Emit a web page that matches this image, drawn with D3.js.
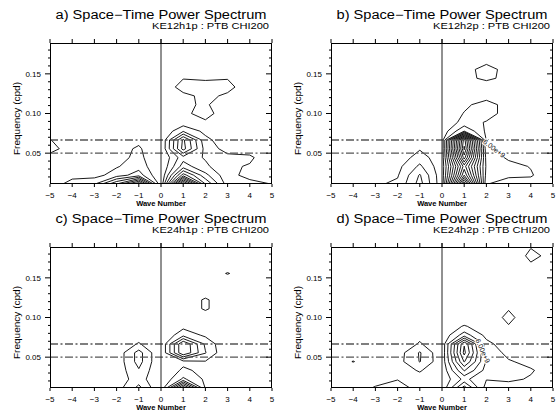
<!DOCTYPE html>
<html><head><meta charset="utf-8">
<script src="https://cdn.jsdelivr.net/npm/d3@7"></script>
<style>body{margin:0;background:#fff}svg{display:block}</style>
</head><body>
<svg id="chart" width="559" height="415"></svg>
<script>
// ---- data ----
const waveNumbers = [-5, -4, -3, -2, -1, 0, 1, 2, 3, 4, 5];
const freqRows = [1/90, 2/90, 3/90, 4/90, 5/90, 6/90, 7/90, 8/90, 9/90, 10/90, 11/90, 12/90, 13/90, 14/90, 15/90, 16/90, 17/90];
const xTickValues = [-5, -4, -3, -2, -1, 0, 1, 2, 3, 4, 5];
const xTickLabels = ['\u22125', '\u22124', '\u22123', '\u22122', '\u22121', '0', '1', '2', '3', '4', '5'];
const yTickValues = [0.05, 0.10, 0.15];
const yTickLabels = ['0.05', '0.10', '0.15'];
const yMinorTicks = [0.02, 0.03, 0.04, 0.06, 0.07, 0.08, 0.09, 0.11, 0.12, 0.13, 0.14, 0.16, 0.17, 0.18];
const refFreqs = [0.05, 1/15];
const titles = ['a) Space\u2212Time Power Spectrum', 'b) Space\u2212Time Power Spectrum', 'c) Space\u2212Time Power Spectrum', 'd) Space\u2212Time Power Spectrum'];
const subtitles = ['KE12h1p : PTB CHI200', 'KE12h2p : PTB CHI200', 'KE24h1p : PTB CHI200', 'KE24h2p : PTB CHI200'];

// power grids, rows listed from highest frequency (top) to lowest (bottom), columns = waveNumbers
const powerA = [
  [0.2,0.2,0.2,0.2,0.2,0,0.2,0.2,0.2,0.2,0.2],
  [0.2,0.2,0.2,0.2,0.2,0,0.2,0.2,0.2,0.2,0.2],
  [0.2,0.2,0.2,0.2,0.2,0,0.2,0.2,0.2,0.2,0.2],
  [0.2,0.2,0.2,0.2,0.2,0,0.3,0.3,0.3,0.2,0.2],
  [0.2,0.2,0.2,0.2,0.2,0,0.95,0.9,0.95,0.3,0.2],
  [0.2,0.2,0.2,0.2,0.2,0.1,1.5,1.3,1.35,0.3,0.2],
  [0.2,0.2,0.2,0.2,0.2,0,0.7,1.3,0.8,0.2,0.2],
  [0.2,0.2,0.2,0.2,0.2,0,0.8,1.15,0.3,0.2,0.2],
  [0.2,0.2,0.2,0.2,0.2,0,0.85,1.25,0.6,0.2,0.2],
  [0.2,0.2,0.2,0.2,0.2,0,0.4,0.9,0.2,0.2,0.2],
  [0.5,0.2,0.2,0.2,0.5,0,1.9,0.7,0.2,0.2,0.2],
  [1.05,0.2,0.2,0.3,0.75,0,5.2,1.3,0.3,0.2,0.1],
  [1.5,0.3,0.3,0.6,1.15,0,5.4,1.6,0.6,0.5,0.2],
  [0.5,0.3,0.3,0.6,1.3,0,2.6,1.9,1.3,1.2,0.2],
  [0.2,0.3,0.3,0.9,1.6,0,3.5,2.2,1.2,0.9,0.2],
  [0.2,0.6,0.6,1.5,2.5,0,6.5,3.3,1.3,0.7,0.3],
  [0.3,1.5,1.9,5,9,0,13,5,1.5,1.3,0.98]
];
const powerB = [
  [0.2,0.2,0.2,0.2,0.2,0.2,0.2,0.2,0.2,0.2,0.2],
  [0.2,0.2,0.2,0.2,0.2,0.2,0.2,0.3,0.2,0.2,0.2],
  [0.2,0.2,0.2,0.2,0.2,0.2,0.4,0.85,0.4,0.2,0.2],
  [0.2,0.2,0.2,0.2,0.2,0.2,0.8,1.2,0.8,0.2,0.2],
  [0.2,0.2,0.2,0.2,0.2,0.2,0.8,1.15,0.8,0.2,0.2],
  [0.2,0.2,0.2,0.2,0.2,0.2,0.6,0.6,0.5,0.2,0.2],
  [0.2,0.2,0.2,0.2,0.2,0.2,0.5,0.6,0.4,0.2,0.2],
  [0.2,0.2,0.2,0.2,0.2,0.2,0.8,1.4,0.6,0.2,0.2],
  [0.2,0.2,0.2,0.2,0.2,0.2,1.05,1.3,0.7,0.2,0.2],
  [0.2,0.2,0.2,0.2,0.2,0.3,1.3,0.95,0.4,0.2,0.2],
  [0.2,0.2,0.2,0.2,0.2,0.3,3,0.8,0.3,0.2,0.2],
  [0.2,0.2,0.2,0.2,0.3,0.3,13.5,0.9,0.3,0.2,0.2],
  [0.2,0.2,0.2,0.2,0.9,0.3,14.2,1.3,0.5,0.2,0.2],
  [0.2,0.2,0.2,0.3,1.5,0.3,12.5,1.6,0.85,0.3,0.2],
  [0.2,0.2,0.3,0.7,2.2,0.3,9.5,1.8,1.3,0.95,0.3],
  [0.2,0.2,0.4,0.9,3.1,0.3,11,1.6,1.2,1.1,0.3],
  [0.2,0.3,0.85,1.2,3.4,0.3,15,1.05,0.5,0.6,0.3]
];
const powerC = [
  [0.2,0.2,0.2,0.2,0.2,0,0.2,0.2,0.2,0.2,0.2],
  [0.2,0.2,0.2,0.2,0.2,0,0.2,0.2,0.2,0.2,0.2],
  [0.2,0.2,0.2,0.2,0.2,0,0.2,0.2,0.6,0.2,0.2],
  [0.2,0.2,0.2,0.2,0.2,0,0.2,0.6,1.04,0.6,0.2],
  [0.2,0.2,0.2,0.2,0.2,0,0.2,0.4,0.6,0.2,0.2],
  [0.2,0.2,0.2,0.2,0.2,0,0.3,0.6,0.3,0.2,0.2],
  [0.2,0.2,0.2,0.2,0.2,0,0.5,1.1,0.5,0.2,0.2],
  [0.2,0.2,0.2,0.2,0.2,0,0.5,1.1,0.5,0.2,0.2],
  [0.2,0.2,0.2,0.2,0.2,0,0.3,0.6,0.3,0.2,0.2],
  [0.2,0.2,0.2,0.2,0.2,0,0.71,0.3,0.2,0.2,0.2],
  [0.2,0.2,0.2,0.2,0.5,0,1.67,0.8,0.2,0.2,0.2],
  [0.2,0.2,0.2,0.2,1.1,0,5,1.8,0,0.2,0.2],
  [0.2,0.2,0.2,0.3,2.4,0,5,2.06,0,0.2,0.2],
  [0.2,0.2,0.2,0.3,2.4,0,0.7,0.95,0,0.2,0.2],
  [0.2,0.2,0.2,0.35,1.9,0,1.2,0.7,0.2,0.2,0.2],
  [0.2,0.2,0.2,0.4,1.5,0,2.2,0.8,0.2,0.2,0.2],
  [0.2,0.2,0.2,0.5,2.3,0,8,0.9,0.2,0.2,0.2]
];
const powerD = [
  [0.2,0.2,0.2,0.2,0.2,0.2,0.2,0.2,0.2,0.95,0.5],
  [0.2,0.2,0.2,0.2,0.2,0.2,0.2,0.2,0.2,1.25,0.7],
  [0.2,0.2,0.2,0.2,0.2,0.2,0.2,0.2,0.2,0.9,0.3],
  [0.2,0.2,0.2,0.2,0.2,0.2,0.2,0.2,0.2,0.2,0.2],
  [0.2,0.2,0.2,0.2,0.2,0.2,0.2,0.2,0.2,0.2,0.2],
  [0.2,0.2,0.2,0.2,0.2,0.2,0.2,0.2,0.2,0.2,0.2],
  [0.2,0.2,0.2,0.2,0.2,0.2,0.2,0.2,0.2,0.2,0.2],
  [0.2,0.2,0.2,0.2,0.2,0.2,0.2,0.3,0.95,0.3,0.2],
  [0.2,0.2,0.2,0.2,0.2,0.2,0.2,0.5,1.2,0.5,0.2],
  [0.2,0.2,0.2,0.2,0.2,0.2,1.1,0.4,0.95,0.3,0.2],
  [0.2,0.2,0.2,0.2,0.75,0.2,2.5,0.7,0.3,0.2,0.2],
  [0.2,0.2,0.2,0.3,1.1,0.2,6.9,1.3,0.4,0.2,0.2],
  [0.2,0.2,0.2,0.5,2.1,0.2,7.3,1.7,0.7,0.3,0.2],
  [0.2,1.05,0.2,0.6,2.05,0.3,6.1,1.9,1.1,0.7,0.2],
  [0.2,0.2,0.3,0.5,1.1,0.2,4.1,1.6,1.3,1.1,0.5],
  [0.2,0.2,0.6,0.95,0.6,0.2,2.3,1.05,1.2,0.9,0.4],
  [0.2,0.5,1.1,1.5,0.6,0.2,4.5,0.5,0.5,0.4,0.3]
];
const levelsA = [1,2,3,4,5,6,7,8,9,10,11,12];
const levelsB = [1,2,3,4,5,6,7,8,9,10,11,12,13,14];
const levelsC = [1,2,3,4,5,6,7];
const levelsD = [1,2,3,4,5,6,7];
const contourLabelText = '6.00e+9';
const labelB = [2.35, 0.0559, 37];
const labelD = [1.84, 0.058, 65];

// ---- layout ----
const W = 222, H = 141;
const FONT = '"Liberation Sans", Arial, Helvetica, sans-serif';
const panels = [
  {left: 50,  top: 43,  grid: powerA, levels: levelsA, label: null},
  {left: 331, top: 43,  grid: powerB, levels: levelsB, label: labelB},
  {left: 50,  top: 247, grid: powerC, levels: levelsC, label: null},
  {left: 331, top: 247, grid: powerD, levels: levelsD, label: labelD}
];

const svg = d3.select('#chart');
svg.append('rect').attr('width', 559).attr('height', 415).attr('fill', '#fff');
const defs = svg.append('defs');

panels.forEach((p, i) => {
  const g = svg.append('g');
  const xs = d3.scaleLinear().domain([-5, 5]).range([p.left, p.left + W]);
  const ys = d3.scaleLinear().domain([freqRows[0], freqRows[freqRows.length - 1]]).range([p.top + H, p.top]);
  const nx = waveNumbers.length, ny = freqRows.length;
  const ix = d3.scaleLinear().domain([0, nx - 1]).range([waveNumbers[0], waveNumbers[nx - 1]]);
  const iy = d3.scaleLinear().domain([0, ny - 1]).range([freqRows[0], freqRows[ny - 1]]);

  const clipId = 'clip' + i;
  defs.append('clipPath').attr('id', clipId).append('rect')
    .attr('x', p.left).attr('y', p.top).attr('width', W).attr('height', H);

  // contours
  const values = p.grid.slice().reverse().flat();
  const proj = d3.geoTransform({point: function(x, y) { this.stream.point(xs(ix(x - 0.5)), ys(iy(y - 0.5))); }});
  const path = d3.geoPath(proj);
  const cs = d3.contours().size([nx, ny]).thresholds(p.levels)(values);
  const cg = g.append('g').attr('clip-path', 'url(#' + clipId + ')');
  cg.selectAll('path.ct').data(cs).join('path').attr('class', 'ct')
    .attr('d', path).attr('fill', 'none').attr('stroke', '#000').attr('stroke-width', 0.9)
    .attr('stroke-linejoin', 'round');

  // reference dash-dot lines
  cg.selectAll('line.ref').data(refFreqs).join('line').attr('class', 'ref')
    .attr('x1', p.left).attr('x2', p.left + W)
    .attr('y1', d => ys(d)).attr('y2', d => ys(d))
    .attr('stroke', '#555').attr('stroke-width', 1.4).attr('stroke-dasharray', '8,2.5,2,2.5');

  // zero wavenumber line
  g.append('line').attr('x1', xs(0)).attr('x2', xs(0)).attr('y1', p.top - 4).attr('y2', p.top + H)
    .attr('stroke', '#222').attr('stroke-width', 1);

  // contour label
  if (p.label) {
    const lg = g.append('g').attr('transform', `translate(${xs(p.label[0])},${ys(p.label[1])}) rotate(${p.label[2]})`);
    lg.append('rect').attr('x', -13).attr('y', -3.5).attr('width', 26).attr('height', 7).attr('fill', '#fff');
    lg.append('text').text(contourLabelText).attr('text-anchor', 'middle').attr('dy', '2.5')
      .attr('font-family', FONT).attr('font-size', 7).attr('fill', '#000');
  }

  // frame
  g.append('rect').attr('x', p.left + 0.5).attr('y', p.top + 0.5).attr('width', W - 1).attr('height', H - 1)
    .attr('fill', 'none').attr('stroke', '#000').attr('stroke-width', 1);

  // x ticks (bottom outward, top outward)
  g.selectAll('line.xb').data(xTickValues).join('line').attr('class', 'xb')
    .attr('x1', d => xs(d)).attr('x2', d => xs(d)).attr('y1', p.top + H).attr('y2', p.top + H + 3)
    .attr('stroke', '#000').attr('stroke-width', 1);
  g.selectAll('line.xt').data(xTickValues).join('line').attr('class', 'xt')
    .attr('x1', d => xs(d)).attr('x2', d => xs(d)).attr('y1', p.top - 4).attr('y2', p.top)
    .attr('stroke', '#000').attr('stroke-width', 1);
  g.selectAll('text.xl').data(xTickValues).join('text').attr('class', 'xl')
    .attr('x', d => xs(d)).attr('y', p.top + H + 13.5).attr('text-anchor', 'middle')
    .attr('font-family', FONT).attr('font-size', 8).text((d, j) => xTickLabels[j]);

  // y ticks
  g.selectAll('line.ym').data(yMinorTicks).join('line').attr('class', 'ym')
    .attr('x1', p.left - 2).attr('x2', p.left).attr('y1', d => ys(d)).attr('y2', d => ys(d))
    .attr('stroke', '#000').attr('stroke-width', 1);
  g.selectAll('line.yM').data(yTickValues).join('line').attr('class', 'yM')
    .attr('x1', p.left - 5).attr('x2', p.left).attr('y1', d => ys(d)).attr('y2', d => ys(d))
    .attr('stroke', '#000').attr('stroke-width', 1);
  g.selectAll('line.yr').data(yMinorTicks).join('line').attr('class', 'yr')
    .attr('x1', p.left + W - 3).attr('x2', p.left + W).attr('y1', d => ys(d)).attr('y2', d => ys(d))
    .attr('stroke', '#000').attr('stroke-width', 1);
  g.selectAll('line.yR').data(yTickValues).join('line').attr('class', 'yR')
    .attr('x1', p.left + W - 6).attr('x2', p.left + W).attr('y1', d => ys(d)).attr('y2', d => ys(d))
    .attr('stroke', '#000').attr('stroke-width', 1);
  g.selectAll('text.yl').data(yTickValues).join('text').attr('class', 'yl')
    .attr('x', p.left - 9).attr('y', d => ys(d) + 2.8).attr('text-anchor', 'end')
    .attr('font-family', FONT).attr('font-size', 8).text((d, j) => yTickLabels[j]);

  // axis titles
  g.append('text').text('Wave Number').attr('x', xs(0)).attr('y', p.top + H + 22)
    .attr('text-anchor', 'middle').attr('font-family', FONT).attr('font-size', 7.5).attr('font-weight', 'bold');
  g.append('text').text('Frequency (cpd)')
    .attr('transform', `translate(${p.left - 30},${p.top + H / 2 + 5}) rotate(-90)`)
    .attr('text-anchor', 'middle').attr('font-family', FONT).attr('font-size', 9)
    .attr('textLength', 73).attr('lengthAdjust', 'spacingAndGlyphs');

  // titles
  g.append('text').text(titles[i]).attr('x', xs(0)).attr('y', p.top - 24.5)
    .attr('text-anchor', 'middle').attr('font-family', FONT).attr('font-size', 12)
    .attr('textLength', 211).attr('lengthAdjust', 'spacingAndGlyphs');
  g.append('text').text(subtitles[i]).attr('x', p.left + W - 3).attr('y', p.top - 14)
    .attr('text-anchor', 'end').attr('font-family', FONT).attr('font-size', 8.5)
    .attr('textLength', 117).attr('lengthAdjust', 'spacingAndGlyphs');
});
</script>
</body></html>
